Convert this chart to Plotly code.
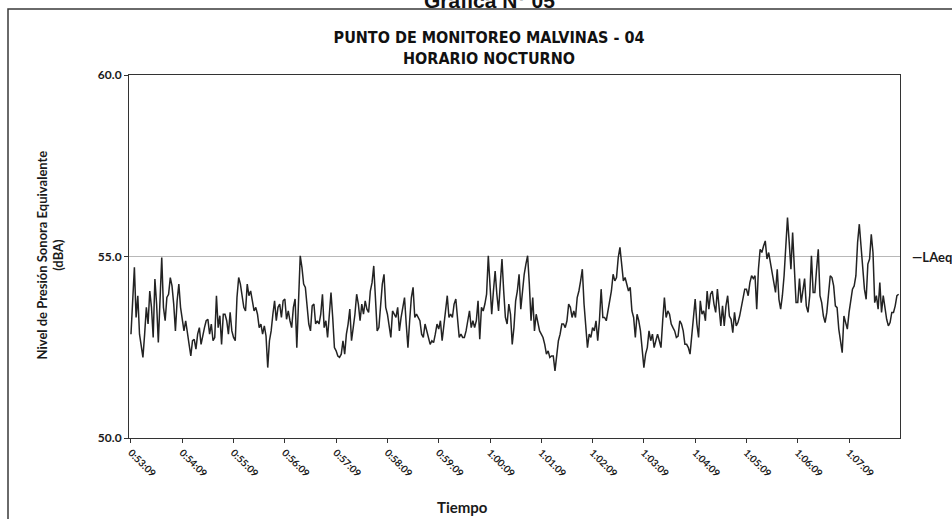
import plotly.graph_objects as go

# LAeq night-time record, one reading every 2 s starting at 0:53:09
STEP_S = 2
tick_labels = ["0:53:09", "0:54:09", "0:55:09", "0:56:09", "0:57:09", "0:58:09",
               "0:59:09", "1:00:09", "1:01:09", "1:02:09", "1:03:09", "1:04:09",
               "1:05:09", "1:06:09", "1:07:09"]

laeq_a = [52.86, 53.69, 54.70, 53.32, 53.92, 52.86, 52.58, 52.22, 52.86, 53.60,
          53.14, 54.05, 53.60, 52.77, 54.38, 53.69, 52.63, 53.96, 54.97, 53.60,
          53.23, 53.87, 53.96, 54.42, 54.19, 53.69, 52.95, 53.78, 54.24, 53.60,
          53.23, 52.95, 53.23, 52.95, 52.58, 52.26, 52.68, 52.72, 52.45, 52.86,
          53.04, 52.58, 52.86, 53.04, 53.23, 53.27, 52.86, 53.14, 52.68, 52.77,
          53.92, 53.04, 53.37, 52.58, 53.41, 53.41, 53.23, 52.86, 53.46, 52.95,
          52.77, 52.68, 53.87, 54.42, 54.24, 53.96, 53.60, 53.50, 54.24, 53.92,
          54.05, 53.78, 53.50, 53.60, 53.41, 53.04, 53.14, 52.86, 53.09, 52.81,
          51.94, 52.68, 52.95, 53.41, 53.78, 53.23, 53.60, 53.69, 53.32, 53.78,
          53.83, 53.27, 53.50, 53.23, 53.04, 53.60, 53.83, 52.49, 54.05, 55.02,
          54.70, 54.24, 54.15, 53.69, 53.14, 52.95, 53.64, 53.69, 53.14, 53.23,
          53.14, 53.41, 53.96, 53.04]

laeq_b = [53.23, 52.77, 53.32, 54.01, 53.32, 52.49, 52.40, 52.26, 52.22, 52.31,
          52.68, 52.31, 52.86, 53.14, 53.55, 52.68, 53.04, 53.41, 53.96, 53.69,
          53.23, 53.69, 53.41, 53.78, 53.55, 53.46, 54.05, 54.28, 54.74, 53.78,
          52.95, 53.04, 53.64, 54.24, 54.51, 53.60, 53.41, 53.14, 52.77, 53.50,
          53.41, 53.32, 53.60, 52.95, 53.32, 53.60, 53.87, 53.14, 52.49, 53.23,
          53.87, 54.15, 53.32, 53.41, 53.32, 53.23, 52.86, 52.77, 53.14, 52.95,
          52.77, 52.58, 52.68, 52.63, 52.86, 53.14, 53.00, 53.23, 52.68, 53.14,
          53.50, 53.92, 53.32, 53.41, 53.32, 53.69, 53.83, 53.32, 52.77, 52.86,
          52.77, 52.77, 52.95, 53.23, 53.50, 53.04, 53.23, 53.04, 53.23, 53.78,
          52.72, 53.60, 53.50, 53.69, 53.96, 55.02, 54.24, 53.41, 54.05, 54.60,
          53.96, 53.50, 54.24, 54.93, 54.05, 53.32, 53.14, 53.69, 53.41, 52.58,
          53.04, 53.78, 54.05, 54.51]

laeq_c = [53.55, 54.05, 54.51, 54.79, 55.02, 54.24, 53.23, 53.87, 52.95, 53.41,
          53.14, 52.95, 52.86, 52.77, 52.58, 52.31, 52.40, 52.22, 52.26, 52.26,
          51.85, 52.31, 52.68, 52.86, 53.14, 53.14, 53.04, 53.23, 53.69, 53.60,
          53.32, 53.50, 53.32, 53.87, 54.05, 54.33, 54.65, 53.69, 53.14, 52.49,
          52.86, 52.77, 53.04, 52.95, 53.23, 52.68, 53.23, 54.10, 53.32, 53.32,
          53.23, 53.50, 53.78, 54.05, 54.51, 54.33, 54.42, 54.97, 55.25, 54.79,
          54.33, 54.42, 54.24, 54.05, 54.15, 53.50, 53.32, 52.77, 53.41, 53.23,
          52.95, 52.40, 51.94, 52.31, 52.49, 52.95, 52.68, 52.86, 52.49, 52.68,
          52.86, 52.68, 52.49, 53.23, 53.87, 53.32, 53.50, 53.41, 53.14, 53.04,
          52.95, 52.77, 52.81, 53.23, 53.14, 52.95, 52.58, 52.58, 52.49, 52.31,
          52.86, 53.32, 53.83, 53.14, 52.77, 53.78, 53.41, 53.50, 53.23, 54.05,
          53.55, 53.96, 54.05, 53.69]

laeq_d = [53.46, 54.10, 53.55, 53.09, 53.64, 53.09, 53.64, 53.92, 53.36, 53.27,
          52.90, 53.46, 53.09, 53.18, 53.36, 53.59, 53.82, 54.10, 54.10, 53.92,
          54.28, 54.47, 54.39, 54.47, 53.55, 54.65, 55.20, 55.11, 55.29, 55.43,
          54.93, 55.11, 54.83, 54.56, 54.28, 54.01, 54.65, 53.82, 53.55, 53.92,
          54.47, 55.48, 56.07, 55.39, 54.65, 55.66, 54.83, 53.73, 53.73, 54.39,
          53.73, 54.10, 54.39, 53.64, 53.46, 53.92, 55.02, 54.01, 54.01, 54.65,
          55.20, 53.92, 53.73, 53.36, 53.18, 53.46, 54.01, 54.47, 54.42, 54.19,
          53.64, 53.59, 53.00, 52.63, 52.35, 53.36, 53.18, 53.00, 53.46, 53.82,
          54.10, 54.19, 54.47, 55.39, 55.89, 55.29, 54.65, 54.10, 53.82, 54.79,
          54.93, 55.61, 55.11, 53.73, 53.92, 53.55, 54.28, 53.46, 53.92, 53.55,
          53.27, 53.09, 53.18, 53.46, 53.46, 53.64, 53.92, 53.96]

y_ticks = [50.0, 55.0, 60.0]

laeq = laeq_a + laeq_b + laeq_c + laeq_d
seconds = [i * STEP_S for i in range(len(laeq))]

W, H = 952, 519
L, R, T, B = 129, 52, 75, 81
PW, PH = W - L - R, H - T - B


def px(xp):
    return (xp - L) / PW


def py(yp):
    return (H - B - yp) / PH


BOLD = dict(family="Lato, Carlito, Liberation Sans", weight="bold", color="#1a1a1a")

fig = go.Figure()
fig.add_trace(go.Scatter(
    x=seconds, y=laeq, mode="lines", name="LAeq", showlegend=False,
    line=dict(color="#232323", width=1.5),
))

fig.update_layout(
    width=W, height=H,
    margin=dict(l=L, r=R, t=T, b=B),
    paper_bgcolor="white", plot_bgcolor="white",
    title=dict(
        text="PUNTO DE MONITOREO MALVINAS - 04<br>HORARIO NOCTURNO",
        x=489 / W, xanchor="center", xref="container",
        y=1 - 43 / H, yanchor="middle", yref="container",
        font=dict(family="Liberation Sans Narrow, DejaVu Sans Condensed, Liberation Sans",
                  size=16, weight="bold", color="#111"),
    ),
    xaxis=dict(
        range=[-2.3, 899.6],
        tickmode="array", tickvals=[60 * k for k in range(len(tick_labels))],
        ticktext=tick_labels, tickangle=45,
        tickfont=dict(size=10, **BOLD),
        ticks="outside", ticklen=4, tickcolor="#333",
        showline=True, linecolor="#333", linewidth=1, mirror=True,
        showgrid=False, zeroline=False,
    ),
    yaxis=dict(
        range=[50, 60],
        tickmode="array", tickvals=y_ticks, tickformat=".1f",
        tickfont=dict(size=12, **BOLD),
        ticks="outside", ticklen=4, tickcolor="#333",
        showline=True, linecolor="#333", linewidth=1, mirror=True,
        showgrid=True, gridcolor="#b8b8b8", gridwidth=1, zeroline=False,
    ),
)

fig.add_annotation(
    text="Nivel de Presión Sonora Equivalente<br>(dBA)", textangle=-90,
    xref="paper", yref="paper", x=px(49.5), y=py(255),
    xanchor="center", yanchor="middle", showarrow=False,
    font=dict(size=13, **BOLD),
)
fig.add_annotation(
    text="Tiempo", xref="paper", yref="paper", x=px(462), y=py(507),
    xanchor="center", yanchor="middle", showarrow=False,
    font=dict(size=15, **BOLD),
)
fig.add_annotation(
    text="—LAeq", xref="paper", yref="paper", x=px(910), y=py(257),
    xanchor="left", yanchor="middle", showarrow=False,
    font=dict(size=13, **BOLD),
)
fig.add_annotation(
    text="Gráfica N° 05", xref="paper", yref="paper", x=px(489), y=py(0),
    xanchor="center", yanchor="middle", showarrow=False,
    font=dict(family="Liberation Sans, Arial", size=21, weight="bold", color="#111"),
)

# outer frame of the chart object
fig.add_shape(
    type="rect", xref="paper", yref="paper",
    x0=px(8), x1=px(970), y0=py(540), y1=py(9),
    line=dict(color="#3a3a3a", width=1.5), fillcolor="rgba(0,0,0,0)", layer="below",
)

fig.write_html("out.html")
